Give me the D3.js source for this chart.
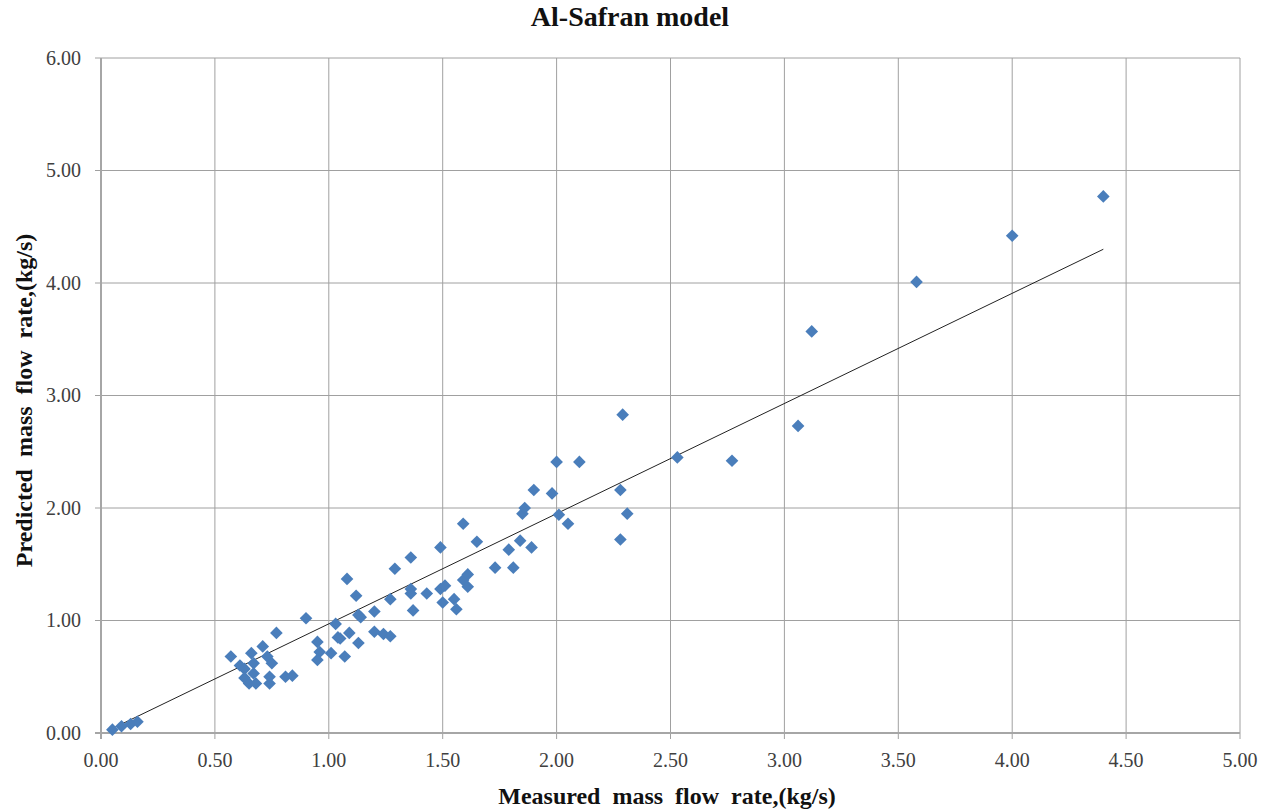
<!DOCTYPE html>
<html>
<head>
<meta charset="utf-8">
<script src="https://cdn.jsdelivr.net/npm/d3@7"></script>
<style>
  body { margin: 0; background: #fff; }
  svg { display: block; }
  text { font-family: "Liberation Serif", "DejaVu Serif", serif; }
</style>
</head>
<body>
<div id="chart"></div>
<script>
// valores
const measured = [
  0.05, 0.09, 0.13, 0.16,
  0.57, 0.61, 0.63, 0.63, 0.65, 0.66, 0.67, 0.67, 0.68, 0.71, 0.73, 0.74, 0.74, 0.75, 0.77, 0.81, 0.84,
  0.90, 0.95, 0.96, 0.95, 1.01, 1.03, 1.04, 1.05, 1.07, 1.08, 1.09, 1.12, 1.13, 1.13, 1.14,
  1.20, 1.20, 1.24, 1.27, 1.27, 1.29, 1.36, 1.36, 1.36, 1.37, 1.43,
  1.49, 1.49, 1.50, 1.51, 1.55, 1.56, 1.59, 1.59, 1.61, 1.61, 1.65,
  1.73, 1.79, 1.81, 1.84, 1.85, 1.86, 1.89, 1.90, 1.98, 2.00, 2.01, 2.05, 2.10,
  2.28, 2.29, 2.28, 2.31, 2.53, 2.77, 3.06, 3.12, 3.58, 4.00, 4.40
];
const predicted = [
  0.03, 0.06, 0.08, 0.10,
  0.68, 0.60, 0.57, 0.49, 0.44, 0.71, 0.53, 0.62, 0.44, 0.77, 0.68, 0.44, 0.50, 0.62, 0.89, 0.50, 0.51,
  1.02, 0.81, 0.72, 0.65, 0.71, 0.97, 0.85, 0.84, 0.68, 1.37, 0.89, 1.22, 0.80, 1.05, 1.03,
  1.08, 0.90, 0.88, 0.86, 1.19, 1.46, 1.56, 1.28, 1.24, 1.09, 1.24,
  1.65, 1.28, 1.16, 1.31, 1.19, 1.10, 1.86, 1.36, 1.41, 1.30, 1.70,
  1.47, 1.63, 1.47, 1.71, 1.95, 2.00, 1.65, 2.16, 2.13, 2.41, 1.94, 1.86, 2.41,
  2.16, 2.83, 1.72, 1.95, 2.45, 2.42, 2.73, 3.57, 4.01, 4.42, 4.77
];
// línea de tendencia (extremos)
const trendX = [0.05, 4.40];
const trendY = [0.04, 4.30];

const xTicks = d3.range(0, 5.01, 0.5);
const yTicks = d3.range(0, 6.01, 1);

const width = 1269, height = 811;
const margin = { left: 101, right: 29, top: 58, bottom: 78 };

const svg = d3.select('#chart').append('svg')
  .attr('width', width)
  .attr('height', height);

const x = d3.scaleLinear().domain([0, 5]).range([margin.left, width - margin.right]);
const y = d3.scaleLinear().domain([0, 6]).range([height - margin.bottom, margin.top]);

// rejilla
svg.append('g')
  .selectAll('line')
  .data(xTicks.slice(1))
  .join('line')
  .attr('x1', d => x(d)).attr('x2', d => x(d))
  .attr('y1', y(6)).attr('y2', y(0) + 6)
  .attr('stroke', '#a0a0a0')
  .attr('stroke-width', 1);

svg.append('g')
  .selectAll('line')
  .data(yTicks.slice(1))
  .join('line')
  .attr('x1', x(0) - 6).attr('x2', x(5))
  .attr('y1', d => y(d)).attr('y2', d => y(d))
  .attr('stroke', '#a0a0a0')
  .attr('stroke-width', 1);

// ejes
svg.append('line')
  .attr('x1', x(0) - 6).attr('x2', x(5))
  .attr('y1', y(0)).attr('y2', y(0))
  .attr('stroke', '#a6a6a6').attr('stroke-width', 2);
svg.append('line')
  .attr('x1', x(0)).attr('x2', x(0))
  .attr('y1', y(6)).attr('y2', y(0) + 6)
  .attr('stroke', '#a6a6a6').attr('stroke-width', 2);

// etiquetas de ticks
svg.append('g')
  .selectAll('text')
  .data(xTicks)
  .join('text')
  .attr('x', d => x(d))
  .attr('y', y(0) + 34)
  .attr('text-anchor', 'middle')
  .attr('font-size', '20px')
  .attr('fill', '#404040')
  .text(d => d.toFixed(2));

svg.append('g')
  .selectAll('text')
  .data(yTicks)
  .join('text')
  .attr('x', x(0) - 20)
  .attr('y', d => y(d))
  .attr('dy', '0.33em')
  .attr('text-anchor', 'end')
  .attr('font-size', '20px')
  .attr('fill', '#404040')
  .text(d => d.toFixed(2));

// línea de tendencia
const line = d3.line().x(d => x(d[0])).y(d => y(d[1]));
svg.append('path')
  .datum(trendX.map((v, i) => [v, trendY[i]]))
  .attr('fill', 'none')
  .attr('stroke', '#222')
  .attr('stroke-width', 1)
  .attr('d', line);

// puntos
const diamond = d3.symbol().type(d3.symbolSquare).size(80);
svg.append('g')
  .selectAll('path')
  .data(measured.map((v, i) => [v, predicted[i]]))
  .join('path')
  .attr('d', diamond)
  .attr('transform', d => `translate(${x(d[0])},${y(d[1])}) rotate(45)`)
  .attr('fill', '#4a7ebb');

// títulos
svg.append('text')
  .attr('x', 630)
  .attr('y', 26)
  .attr('text-anchor', 'middle')
  .attr('font-size', '28px')
  .attr('font-weight', 'bold')
  .attr('fill', '#111')
  .text('Al-Safran model');

svg.append('text')
  .attr('x', 667)
  .attr('y', 804)
  .attr('text-anchor', 'middle')
  .attr('font-size', '24px')
  .attr('font-weight', 'bold')
  .attr('fill', '#111')
  .style('white-space', 'pre')
  .text('Measured  mass  flow  rate,(kg/s)');

const midY = (y(0) + y(6)) / 2 + 5;
svg.append('text')
  .attr('transform', `translate(32, ${midY}) rotate(-90)`)
  .attr('text-anchor', 'middle')
  .attr('font-size', '24px')
  .attr('font-weight', 'bold')
  .attr('fill', '#111')
  .style('white-space', 'pre')
  .text('Predicted  mass  flow  rate,(kg/s)');
</script>
</body>
</html>
